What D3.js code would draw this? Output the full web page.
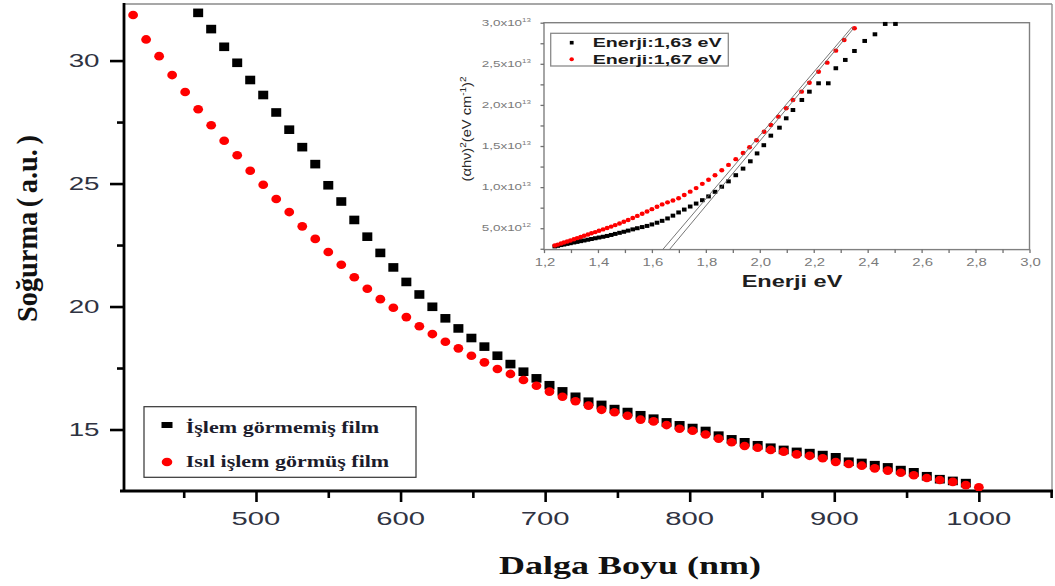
<!DOCTYPE html>
<html><head><meta charset="utf-8">
<script src="https://cdn.jsdelivr.net/npm/d3@7"></script>
<style>body{margin:0;background:#fff;} svg{display:block;}</style>
</head><body>
<svg id="chart" width="1055" height="586"></svg>
<script>
// ---------- main chart data ----------
const wavelengths = [415,424,433,442,451,460,469,478,487,496,505,514,523,532,541,550,559,568,577,586,595,604,613,622,631,640,649,658,667,676,685,694,703,712,721,730,739,748,757,766,775,784,793,802,811,820,829,838,847,856,865,874,883,892,901,910,919,928,937,946,955,964,973,982,991,1000];
// black squares: "İşlem görmemiş film" (first points are above the plotted range)
const untreated = [null,null,null,null,null,
 31.94,31.28,30.56,29.91,29.21,28.60,27.89,27.19,26.48,25.79,
 24.93,24.27,23.52,22.84,22.18,21.59,21.00,20.49,19.99,19.52,
 19.11,18.72,18.37,18.00,17.66,17.35,17.08,16.80,16.55,16.33,
 16.13,16.00,15.83,15.71,15.58,15.44,15.29,15.17,15.06,14.94,
 14.75,14.60,14.48,14.36,14.26,14.17,14.09,14.04,13.96,13.87,
 13.69,13.64,13.55,13.46,13.35,13.26,13.10,12.98,12.91,12.82,null];
// red dots: "Isıl işlem görmüş film"
const annealed = [31.85,30.86,30.18,29.41,28.72,28.02,27.37,26.74,26.15,25.52,
 24.95,24.37,23.84,23.26,22.75,22.22,21.70,21.19,20.72,20.30,
 19.95,19.57,19.20,18.88,18.57,18.30,18.00,17.73,17.46,17.26,
 17.01,16.78,16.54,16.33,16.15,15.97,15.80,15.70,15.56,15.40,
 15.33,15.18,15.03,14.95,14.80,14.63,14.48,14.33,14.26,14.17,
 14.10,13.99,13.93,13.83,13.68,13.60,13.53,13.42,13.33,13.24,
 13.14,13.03,12.95,12.87,12.74,12.65];
const xTicks = [500,600,700,800,900,1000];
const xMinorTicks = [450,550,650,750,850,950,1050];
const yTicks = [15,20,25,30];
const yMinorTicks = [17.5,22.5,27.5];
const legendLabels = ["İşlem görmemiş film","Isıl işlem görmüş film"];
const xTitle = "Dalga Boyu (nm)";
const yTitle = "Soğurma ( a.u. )";

// ---------- inset data (energy in eV, (αhν)² in units of 10^12) ----------
const insetEnergyBlack = [1.240,1.251,1.263,1.274,1.286,1.298,1.311,1.323,1.336,1.349,1.363,1.376,1.390,1.404,1.419,1.434,1.449,1.464,1.480,1.496,1.512,1.529,1.546,1.564,1.582,1.600,1.619,1.638,1.658,1.678,1.699,1.720,1.742,1.764,1.787,1.810,1.834,1.859,1.884,1.911,1.938,1.965,1.990,2.015,2.041,2.073,2.098,2.123,2.156,2.184,2.218,2.254,2.282,2.317,2.351,2.389,2.427,2.465,2.503];
const insetBlack = [2.79,2.86,2.95,3.02,3.10,3.18,3.27,3.34,3.43,3.51,3.60,3.69,3.78,3.87,3.96,4.06,4.18,4.31,4.44,4.57,4.71,4.86,5.00,5.14,5.28,5.46,5.67,5.90,6.19,6.53,6.92,7.27,7.64,8.00,8.41,8.87,9.43,10.05,10.70,11.45,12.25,13.14,14.10,15.10,16.26,17.23,18.37,19.38,20.60,21.61,22.63,22.63,24.46,25.47,26.56,27.78,28.59,29.85,29.85];
const insetEnergyRed = [1.240,1.251,1.263,1.274,1.286,1.298,1.311,1.323,1.336,1.349,1.363,1.376,1.390,1.404,1.419,1.434,1.449,1.464,1.480,1.496,1.512,1.529,1.546,1.564,1.582,1.600,1.619,1.638,1.658,1.678,1.699,1.720,1.742,1.764,1.787,1.810,1.834,1.859,1.884,1.911,1.938,1.962,1.988,2.016,2.041,2.069,2.098,2.123,2.155,2.184,2.218,2.250,2.282,2.313,2.351];
const insetRed = [2.90,3.01,3.14,3.26,3.39,3.50,3.65,3.79,3.93,4.08,4.24,4.38,4.53,4.69,4.86,5.03,5.20,5.38,5.57,5.78,6.00,6.25,6.50,6.76,7.03,7.32,7.62,7.90,8.15,8.38,8.65,9.05,9.45,9.88,10.40,10.90,11.45,12.05,12.70,13.40,14.15,14.85,15.70,16.74,17.56,18.57,19.59,20.60,21.61,22.70,24.04,25.14,26.60,27.90,29.32];
// linear extrapolation lines [E1, y1, E2, y2]
const insetFitLines = [[1.640,2.4,2.343,29.5],[1.665,2.4,2.350,29.4]];
const insetXTicks = [1.2,1.4,1.6,1.8,2.0,2.2,2.4,2.6,2.8,3.0];
const insetXTickLabels = ["1,2","1,4","1,6","1,8","2,0","2,2","2,4","2,6","2,8","3,0"];
const insetXMinorTicks = [1.3,1.5,1.7,1.9,2.1,2.3,2.5,2.7,2.9];
const insetYTicks = [5,10,15,20,25,30];
const insetYTickMantissa = ["5,0x10","1,0x10","1,5x10","2,0x10","2,5x10","3,0x10"];
const insetYTickExponent = ["12","13","13","13","13","13"];
const insetYMinorTicks = [2.5,7.5,12.5,17.5,22.5,27.5];
const insetLegendLabels = ["Enerji:1,63 eV","Enerji:1,67 eV"];
const insetXTitle = "Enerji eV";

// ---------- helpers ----------
const svg = d3.select("#chart");
const SANS = "'Liberation Sans', Arial, sans-serif";
const SERIF = "'Liberation Serif', 'Times New Roman', serif";

function placeText(parent, o) {
  const g = parent.append("g")
    .attr("transform", `translate(${o.x},${o.y})` + (o.rotate ? ` rotate(${o.rotate})` : ""));
  const t = g.append("text")
    .attr("font-family", o.family || SANS)
    .attr("font-size", o.size)
    .attr("font-weight", o.weight || "normal")
    .attr("fill", o.fill || "#000")
    .attr("text-anchor", o.anchor || "start");
  if (o.dy) t.attr("dy", o.dy);
  if (o.wordSpacing != null) t.style("word-spacing", o.wordSpacing + "px");
  const parts = o.parts || [{t: o.text}];
  let raised = false;
  parts.forEach(p => {
    const ts = t.append("tspan").text(p.t);
    if (p.sup) {
      ts.attr("font-size", o.supSize).attr("dy", raised ? 0 : -o.supRaise);
      raised = true;
    } else if (raised) {
      ts.attr("dy", o.supRaise);
      raised = false;
    }
  });
  const w = t.node().getComputedTextLength();
  const sx = o.width ? o.width / w : (o.sx || 1);
  t.attr("transform", `scale(${sx},${o.sy || 1})`);
  return t;
}

// ---------- main chart ----------
const x = d3.scaleLinear().domain([408.7, 1050.6]).range([124, 1052]);
const y = d3.scaleLinear().domain([12.5, 32.3]).range([491, 4]);

svg.append("defs").append("clipPath").attr("id", "plotClip")
  .append("rect").attr("x", 124).attr("y", 4).attr("width", 928).attr("height", 487);

// frame (top / right thin)
svg.append("line").attr("x1", 124).attr("x2", 1052).attr("y1", 4).attr("y2", 4)
  .attr("stroke", "#8a8a8a").attr("stroke-width", 1.3);
svg.append("line").attr("x1", 1052).attr("x2", 1052).attr("y1", 4).attr("y2", 491)
  .attr("stroke", "#8a8a8a").attr("stroke-width", 1.3);

// axis ticks
const xAxisG = svg.append("g").attr("transform", "translate(0,491)");
xAxisG.call(d3.axisBottom(x).tickValues(xTicks).tickSize(11).tickSizeOuter(0).tickFormat(() => ""));
const xMinorG = svg.append("g").attr("transform", "translate(0,491)");
xMinorG.call(d3.axisBottom(x).tickValues(xMinorTicks).tickSize(7).tickSizeOuter(0).tickFormat(() => ""));
const yAxisG = svg.append("g").attr("transform", "translate(124,0)");
yAxisG.call(d3.axisLeft(y).tickValues(yTicks).tickSize(14).tickSizeOuter(0).tickFormat(() => ""));
const yMinorG = svg.append("g").attr("transform", "translate(124,0)");
yMinorG.call(d3.axisLeft(y).tickValues(yMinorTicks).tickSize(7).tickSizeOuter(0).tickFormat(() => ""));
[xAxisG, xMinorG, yAxisG, yMinorG].forEach(g => {
  g.select(".domain").remove();
  g.selectAll(".tick line").attr("stroke", "#000").attr("stroke-width", 2.6);
});
// axis lines
svg.append("line").attr("x1", 120).attr("x2", 1053).attr("y1", 491).attr("y2", 491)
  .attr("stroke", "#000").attr("stroke-width", 2.8);
svg.append("line").attr("x1", 124).attr("x2", 124).attr("y1", 3).attr("y2", 492)
  .attr("stroke", "#000").attr("stroke-width", 2.8);

// tick labels
xTicks.forEach(v => placeText(svg, {x: x(v), y: 525, text: String(v), size: 18.5,
  anchor: "middle", sx: 1.58, fill: "#2f3342"}));
yTicks.forEach(v => placeText(svg, {x: 99.5, y: y(v), text: String(v), size: 18.5,
  anchor: "end", dy: "0.36em", sx: 1.5, fill: "#2f3342"}));

// axis titles
placeText(svg, {x: 630, y: 574, text: xTitle, size: 25, weight: "bold", family: SERIF,
  anchor: "middle", width: 262, fill: "#111"});
placeText(svg, {x: 36.5, y: 228.5, text: yTitle, size: 29, weight: "bold", family: SERIF,
  anchor: "middle", width: 187, rotate: -90, wordSpacing: -2.5, fill: "#111"});

// data
const plot = svg.append("g").attr("clip-path", "url(#plotClip)");
const blackPts = wavelengths.map((w, i) => ({w, v: untreated[i]})).filter(d => d.v != null);
const redPts = wavelengths.map((w, i) => ({w, v: annealed[i]})).filter(d => d.v != null);
plot.selectAll("rect.blk").data(blackPts).join("rect").attr("class", "blk")
  .attr("x", d => x(d.w) - 5).attr("y", d => y(d.v) - 4.3)
  .attr("width", 10).attr("height", 8.6).attr("fill", "#000");
plot.selectAll("ellipse.red").data(redPts).join("ellipse").attr("class", "red")
  .attr("cx", d => x(d.w)).attr("cy", d => y(d.v))
  .attr("rx", 4.9).attr("ry", 4.3).attr("fill", "#ff0000");

// main legend
svg.append("rect").attr("x", 144).attr("y", 406.7).attr("width", 272).attr("height", 70.6)
  .attr("fill", "#fff").attr("stroke", "#333").attr("stroke-width", 1.2);
svg.append("rect").attr("x", 161.5).attr("y", 422).attr("width", 11).attr("height", 6).attr("fill", "#000");
svg.append("ellipse").attr("cx", 167).attr("cy", 462).attr("rx", 5.3).attr("ry", 4.3).attr("fill", "#ff0000");
placeText(svg, {x: 185.7, y: 432.7, text: legendLabels[0], size: 17, weight: "bold", family: SERIF,
  width: 193.6, fill: "#1c1c2c"});
placeText(svg, {x: 185.7, y: 467.3, text: legendLabels[1], size: 17, weight: "bold", family: SERIF,
  width: 203.6, fill: "#1c1c2c"});

// ---------- inset ----------
const ix = d3.scaleLinear().domain([1.2, 3.0]).range([544, 1029.5]);
const iy = d3.scaleLinear().domain([2.4, 30]).range([249.6, 22.7]);
const inset = svg.append("g");
inset.append("rect").attr("x", 544).attr("y", 22.7).attr("width", 485.5).attr("height", 226.9)
  .attr("fill", "#fff").attr("stroke", "#808080").attr("stroke-width", 1.4);
inset.append("defs").append("clipPath").attr("id", "insetClip")
  .append("rect").attr("x", 544).attr("y", 20).attr("width", 485.5).attr("height", 229.6);

const ixAxis = inset.append("g").attr("transform", "translate(0,249.6)")
  .call(d3.axisBottom(ix).tickValues(insetXTicks.concat(insetXMinorTicks)).tickSize(3.5).tickSizeOuter(0).tickFormat(() => ""));
const iyAxis = inset.append("g").attr("transform", "translate(544,0)")
  .call(d3.axisLeft(iy).tickValues(insetYTicks.concat(insetYMinorTicks)).tickSize(3.5).tickSizeOuter(0).tickFormat(() => ""));
[ixAxis, iyAxis].forEach(g => {
  g.select(".domain").remove();
  g.selectAll(".tick line").attr("stroke", "#707070").attr("stroke-width", 1.3);
});
insetXTicks.forEach((v, i) => placeText(inset, {x: ix(v) + 1, y: 266, text: insetXTickLabels[i],
  size: 10.5, anchor: "middle", sx: 1.42, fill: "#7a7a7a"}));
insetYTicks.forEach((v, i) => placeText(inset, {x: 531, y: iy(v), anchor: "end", dy: "0.35em",
  parts: [{t: insetYTickMantissa[i]}, {t: insetYTickExponent[i], sup: true}],
  size: 9.3, supSize: 5.5, supRaise: 4, sx: 1.45, fill: "#7a7a7a"}));

placeText(inset, {x: 792, y: 287.3, text: insetXTitle, size: 17, weight: "bold",
  anchor: "middle", width: 100.7, fill: "#1e1e1e"});
placeText(inset, {x: 471, y: 129, anchor: "middle", rotate: -90, size: 12.5, fill: "#2a2a2a",
  parts: [{t: "(αhν)"}, {t: "2", sup: true}, {t: "(eV cm"}, {t: "-1", sup: true}, {t: ")"}, {t: "2", sup: true}],
  supSize: 8.5, supRaise: 5, width: 105});

const ip = inset.append("g").attr("clip-path", "url(#insetClip)");
const iBlack = insetEnergyBlack.map((e, i) => ({e, v: insetBlack[i]}));
const iRed = insetEnergyRed.map((e, i) => ({e, v: insetRed[i]}));
ip.selectAll("rect.iblk").data(iBlack).join("rect").attr("class", "iblk")
  .attr("x", d => ix(d.e) - 2.3).attr("y", d => iy(d.v) - 2).attr("width", 4.6).attr("height", 4)
  .attr("fill", "#000");
ip.selectAll("ellipse.ired").data(iRed).join("ellipse").attr("class", "ired")
  .attr("cx", d => ix(d.e)).attr("cy", d => iy(d.v)).attr("rx", 2.5).attr("ry", 2.2)
  .attr("fill", "#ff0000");
ip.selectAll("line.fit").data(insetFitLines).join("line").attr("class", "fit")
  .attr("x1", d => ix(d[0])).attr("y1", d => iy(d[1]))
  .attr("x2", d => ix(d[2])).attr("y2", d => iy(d[3]))
  .attr("stroke", "#666").attr("stroke-width", 0.9);

// inset legend
inset.append("rect").attr("x", 550.7).attr("y", 33.3).attr("width", 177.6).attr("height", 32.7)
  .attr("fill", "#fff").attr("stroke", "#8a8a8a").attr("stroke-width", 1.3);
inset.append("rect").attr("x", 569.8).attr("y", 40.9).attr("width", 3.8).attr("height", 3.6).attr("fill", "#000");
inset.append("ellipse").attr("cx", 571.7).attr("cy", 59.3).attr("rx", 2.2).attr("ry", 2).attr("fill", "#ff0000");
placeText(inset, {x: 592.7, y: 46.7, text: insetLegendLabels[0], size: 13, weight: "bold",
  width: 129, fill: "#1a1a1a"});
placeText(inset, {x: 592.7, y: 64, text: insetLegendLabels[1], size: 13, weight: "bold",
  width: 129, fill: "#1a1a1a"});
</script>
</body></html>
